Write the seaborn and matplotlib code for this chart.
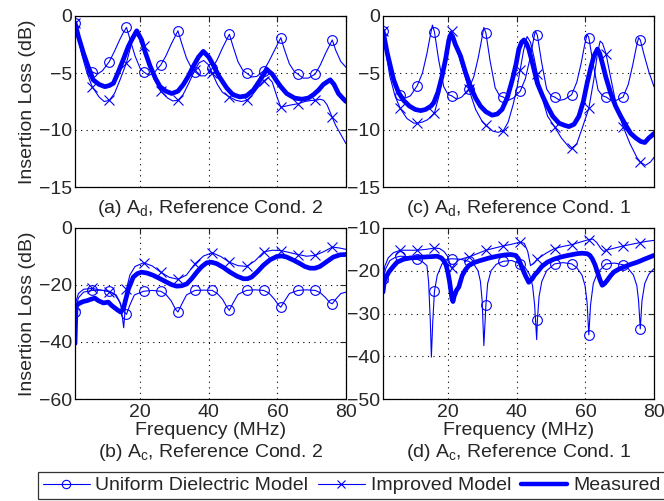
import numpy as np
import matplotlib
matplotlib.use('Agg')
import matplotlib.pyplot as plt
from matplotlib.lines import Line2D
import seaborn as sns

# marcadores cada 5 MHz
marker_freq = [1, 6, 11, 16, 21, 26, 31, 36, 41, 46, 51, 56, 61, 66, 71, 76]

# ---- (a) A_d, Reference Cond. 2 ----
a_uni_f = [1, 2, 3, 4.5, 6, 7.5, 9, 11, 12.5, 14, 15, 16, 17, 18.5, 20, 21, 22.5, 24, 26, 27.5, 29, 30, 31,
           32, 33.5, 35, 36, 37.5, 39, 41, 42.5, 44, 45, 46, 47, 48.5, 50, 51, 52.5, 54, 56, 57.5, 59, 60, 61,
           62, 63.5, 65, 66, 67.5, 69, 71, 72.5, 74, 75, 76, 77, 78.5, 80]
a_uni_db = [-0.6, -1.6, -2.6, -4.0, -4.9, -5.1, -4.8, -4.0, -3.1, -2.1, -1.5, -1.0, -2.0, -3.5, -4.6, -4.9, -5.2, -5.0, -4.3, -3.5, -2.5, -1.9, -1.3,
            -2.3, -3.7, -4.6, -4.9, -5.25, -5.25, -4.6, -3.8, -2.8, -2.2, -1.6, -2.6, -4.0, -4.8, -5.0, -5.35, -5.3, -4.8, -4.0, -3.1, -2.5, -1.9,
            -2.9, -4.2, -4.9, -5.1, -5.45, -5.45, -5.1, -4.3, -3.3, -2.7, -2.1, -3.0, -4.0, -4.5]
a_imp_f = [1, 2, 3, 4.5, 6, 8, 9.5, 11, 12.5, 14, 16, 17.5, 18.7, 20, 21, 22.5, 24, 26, 28, 29.5, 31, 32.5, 34, 36,
           37.2, 38.5, 40, 41, 42.5, 44, 46, 48, 49.5, 51, 52.5, 54, 56, 57.3, 58.5, 60, 61, 62.5, 64, 66, 68, 70,
           71, 72.5, 73.5, 74.5, 76, 77, 78.5, 80]
a_imp_db = [-0.6, -2.0, -3.4, -5.0, -6.2, -7.1, -7.5, -7.4, -6.8, -5.7, -4.1, -2.4, -1.6, -2.0, -2.6, -4.0, -5.5, -6.6, -7.2, -7.45, -7.4, -6.9, -6.0, -4.7,
            -4.1, -3.9, -4.3, -5.0, -6.0, -6.7, -7.1, -7.4, -7.5, -7.4, -7.0, -6.4, -5.7, -5.4, -5.8, -7.2, -8.0, -7.9, -7.8, -7.7, -7.5, -7.4,
            -7.4, -7.3, -7.4, -7.8, -8.9, -9.6, -10.4, -11.2]
a_meas_f = [1, 2, 3.4, 5, 6.3, 8, 9.7, 11, 12.2, 13.5, 15.1, 16.5, 17.5, 19, 20.4, 21.5, 22.9, 24.5, 25.8, 27.5, 29.2, 31,
            32.6, 34, 35.5, 37, 38.4, 40, 41.3, 43, 45.2, 47, 49.1, 51, 53, 55, 56.9, 58.5, 59.8, 61, 62.7, 65, 67.1,
            69, 70.5, 72, 73.4, 75.4, 76.5, 77.8, 79, 80]
a_meas_db = [-0.6, -1.8, -3.2, -4.6, -5.6, -6.0, -6.2, -6.1, -5.9, -5.0, -3.8, -2.7, -2.1, -1.3, -2.1, -3.2, -4.4, -5.5, -6.2, -6.6, -6.8, -6.6,
             -6.0, -5.3, -4.4, -3.6, -3.1, -3.6, -4.3, -5.3, -6.3, -6.9, -7.1, -7.0, -6.5, -5.6, -4.7, -5.1, -5.7, -6.2, -6.8, -7.2, -7.3,
             -7.2, -6.9, -6.5, -6.0, -5.6, -6.0, -6.8, -7.2, -7.5]

# ---- (c) A_d, Reference Cond. 1 ----
c_uni_f = [1, 2, 3, 4.5, 6, 7.5, 9, 11, 12.5, 13.8, 14.8, 15.4, 16, 17.2, 18.7, 20, 21, 22.5, 24, 26, 27.5, 28.8, 29.8, 30.4,
           31, 32.2, 33.7, 35, 36, 37.5, 39, 41, 42.5, 43.8, 44.8, 45.4, 46, 47.2, 48.7, 50, 51, 52.5, 54, 56, 57.5, 58.8,
           59.8, 60.5, 61, 62.2, 63.7, 65, 66, 67.5, 69, 71, 72.5, 73.8, 74.8, 75.5, 76, 77.2, 78.5, 80]
c_uni_db = [-1.3, -2.8, -4.3, -6.1, -6.9, -7.2, -7.0, -6.1, -5.0, -3.3, -1.7, -0.8, -1.4, -3.8, -6.2, -6.9, -7.0, -7.3, -7.1, -6.4, -5.3, -3.6, -2.0, -1.0,
            -1.5, -3.9, -6.3, -7.0, -7.1, -7.4, -7.2, -6.6, -5.5, -3.8, -2.2, -1.3, -1.7, -4.0, -6.4, -7.0, -7.1, -7.4, -7.3, -6.9, -5.8, -4.1,
            -2.5, -1.6, -1.9, -4.1, -6.5, -7.0, -7.1, -7.4, -7.4, -7.1, -6.0, -4.3, -2.8, -1.9, -2.1, -3.5, -4.9, -6.2]
c_imp_f = [1, 2, 3, 4.5, 6, 8, 10, 11, 12.5, 14, 16, 17.5, 18.8, 19.8, 20.5, 21, 22, 23.5, 26, 28, 30, 31, 33, 34.5, 36,
           37.5, 39, 40, 41, 42, 43, 44, 45, 46, 47.5, 49, 51, 53, 55.5, 56, 57.5, 59, 61, 62.5, 63.5, 64.3, 65, 66,
           67.5, 69, 71, 73, 75, 76, 77.5, 79, 80]
c_imp_db = [-1.3, -3.5, -5.3, -7.0, -8.1, -9.0, -9.4, -9.4, -9.3, -9.1, -8.5, -6.8, -4.5, -2.5, -1.4, -1.3, -2.3, -3.9, -6.4, -8.2, -9.3, -9.6, -10.1, -10.2, -10.1,
            -9.3, -7.7, -6.4, -4.7, -3.0, -1.8, -2.3, -3.6, -5.1, -7.3, -8.8, -9.7, -10.7, -11.6, -11.6, -11.2, -9.9, -8.1, -5.5, -3.3, -2.2, -2.4, -3.3,
            -5.6, -7.8, -9.7, -11.2, -12.4, -12.8, -13.1, -12.8, -12.4]
c_meas_f = [1, 2.2, 4.1, 5.5, 7, 8.7, 10.4, 12, 13.4, 15, 15.8, 17, 18.2, 19.3, 20.2, 20.8, 21.3, 22.1, 23.6, 25, 26.5, 28,
            29.4, 31, 32.8, 34.3, 35.7, 37.2, 38.7, 39.8, 40.6, 41.4, 42.1, 42.8, 43.5, 44.7, 46, 47.5, 48.9, 50.5, 52.3,
            54, 55.2, 56.7, 58.1, 59.4, 60.5, 61.6, 62.5, 63.5, 64.2, 64.9, 66, 67.4, 68.8, 70.3, 71.8, 73.2, 74.7, 76.1,
            77.3, 78.5, 79.3, 80]
c_meas_db = [-1.3, -3.2, -5.6, -6.7, -7.4, -7.9, -8.2, -8.3, -8.2, -7.9, -7.6, -6.7, -5.3, -3.7, -2.1, -1.6, -1.8, -2.5, -3.5, -4.9, -6.2, -7.2,
             -7.9, -8.4, -8.7, -8.6, -8.2, -7.2, -5.6, -4.2, -2.9, -2.3, -2.1, -2.4, -2.9, -4.3, -5.9, -7.0, -7.9, -8.8, -9.4,
             -9.6, -9.7, -9.5, -8.8, -7.5, -5.9, -4.5, -3.5, -2.9, -3.3, -4.1, -5.4, -6.8, -7.9, -8.8, -9.6, -10.3, -10.7, -11.0,
             -11.1, -10.7, -10.5, -10.3]

# ---- (b) A_c, Reference Cond. 2 ----
b_uni_f = [1, 2, 3.5, 6, 8.5, 11, 12.5, 13.8, 15, 16, 17, 18.3, 21, 23.5, 26, 27.5, 29, 30.3, 31, 32, 33.5, 36, 38.5,
           41, 42.5, 44, 45.3, 46, 47, 48.5, 51, 53.5, 56, 57.5, 59, 60.3, 61, 62, 63.5, 66, 68.5, 71, 72.5, 74, 75.3,
           76, 77, 78.5, 80]
b_uni_db = [-29.5, -24.5, -22.5, -21.9, -21.8, -22.2, -23.2, -25.5, -29, -30.3, -27, -23.5, -22.2, -21.9, -22.2, -23.3, -25.5, -28.5, -29.5, -27, -23.5, -21.9, -21.8,
            -21.9, -23.0, -25.0, -27.8, -28.9, -26.5, -23.3, -21.9, -21.7, -21.9, -22.8, -24.8, -27.0, -27.8, -25.8, -23.0, -21.9, -21.7, -21.9, -22.7, -24.4, -26.2,
            -26.6, -25.0, -23.0, -22.5]
b_imp_f = [1, 2, 3.5, 6, 8.5, 11, 13, 14.3, 15.2, 15.7, 16, 17, 18.5, 21, 23.5, 26, 28.5, 31, 33.5, 36, 38.5, 41, 43.5,
           46, 48.5, 51, 53.5, 56, 58.5, 61, 63.5, 66, 68.5, 71, 73.5, 76, 78, 80]
b_imp_db = [-27, -23, -21.5, -21.2, -21.8, -22.3, -23.5, -26.5, -35, -27, -21.4, -16.5, -13.5, -12.2, -13.3, -15.5, -17.3, -18.0, -16.5, -12.5, -9.8, -8.7, -10.0,
            -12.0, -13.2, -13.5, -11.5, -8.4, -7.8, -7.9, -8.6, -9.3, -9.9, -9.6, -8.3, -6.7, -7.0, -7.5]
b_meas_f = [1, 1.3, 2, 3.4, 4.5, 5.4, 6.8, 7.8, 9.3, 10.7, 11.7, 13.2, 14.3, 15.1, 15.8, 16.6, 18, 19.2, 20.4, 22, 23.8,
            25.8, 27.7, 29.2, 30.6, 32, 33.6, 35, 36.5, 38, 39.4, 40.8, 42.3, 44.2, 46.2, 48.2, 50.1, 51.3, 52.5, 54.2,
            55.9, 57.8, 59.8, 61.2, 62.7, 64.7, 66.6, 68, 69.5, 71, 72.4, 74.4, 76.3, 78.3, 80]
b_meas_db = [-40.5, -27.5, -26.6, -25.8, -25.5, -25.1, -24.6, -25.5, -26.3, -26.0, -27.2, -28.6, -29.5, -28.4, -25.0, -21.3, -17.2, -16.0, -15.5, -15.8, -16.6,
             -17.8, -19.0, -19.9, -20.4, -20.3, -19.6, -17.8, -15.5, -13.5, -12.2, -12.0, -12.5, -13.8, -15.5, -16.9, -17.8, -17.8, -17.2, -15.3,
             -13.1, -11.2, -10.0, -9.8, -10.2, -11.3, -12.5, -13.5, -14.1, -14.1, -13.5, -11.8, -10.2, -9.4, -9.3]

# ---- (d) A_c, Reference Cond. 1 ----
d_uni_f = [1, 1.8, 3, 4.5, 6, 8.5, 11, 12.5, 13.8, 14.3, 14.8, 15.1, 15.5, 16, 16.8, 18.2, 19.7, 21, 23.5, 26, 27.5, 28.7,
           29.4, 29.9, 30.4, 31, 31.5, 32.5, 34, 36, 38.5, 41, 42.5, 43.8, 44.6, 45.2, 45.8, 46, 46.5, 47.3, 48.7, 51,
           53.5, 56, 57.5, 59, 59.9, 60.5, 61, 61.5, 62.3, 63.5, 66, 68.5, 71, 72.5, 74, 75, 75.5, 76, 76.5, 77.3, 78.5, 80]
d_uni_db = [-22, -19.5, -17.6, -16.9, -16.6, -16.7, -17.3, -17.9, -18.8, -22.7, -32, -40.2, -32, -24.8, -21.1, -18.4, -17.3, -17.2, -17.3, -17.8, -18.5, -20,
            -22.5, -27, -37.5, -28, -23, -20, -18.5, -17.8, -17.6, -18.4, -19.3, -21, -23.5, -28, -36.1, -31.6, -26, -22.5, -20.0, -18.4,
            -18.1, -18.4, -19.3, -21.0, -23.5, -27.5, -35.0, -28, -23, -20.5, -18.4, -18.2, -18.6, -19.5, -21, -23.5, -27, -33.6, -27, -23, -20.8, -19.5]
d_imp_f = [1, 1.5, 2.5, 4, 6, 8.5, 11, 13.5, 16, 17.5, 18.8, 19.8, 20.5, 21, 21.8, 23, 24.5, 26, 28.5, 31, 33.5, 36, 38.5,
           41, 42.2, 43.2, 44, 45, 46, 48.5, 51, 53.5, 56, 58.5, 61, 62.2, 63.3, 64.5, 65.4, 66, 68.5, 71, 73.5, 76, 78, 80]
d_imp_db = [-21.5, -19, -17, -15.8, -15.2, -15.2, -15.2, -15.0, -14.7, -14.8, -15.5, -16.6, -18.3, -19.4, -18.6, -17.5, -17.1, -16.8, -16.0, -15.2, -14.7, -14.2, -13.8,
            -13.3, -13.6, -15.5, -18.8, -18.2, -17.3, -15.9, -14.8, -14.3, -13.9, -13.3, -12.7, -12.6, -13.4, -14.8, -15.5, -15.2, -14.7, -14.2, -13.8, -13.4, -13.1, -12.9]
d_meas_f = [1, 1.4, 2.7, 4, 5.1, 7, 9, 11, 12.9, 15, 16.8, 18, 18.7, 19.4, 19.9, 20.4, 20.7, 21.1, 21.4, 21.8, 22.1, 22.4,
            23.1, 24.1, 25, 26, 27.5, 29.4, 32, 34.3, 36.5, 38.2, 39.6, 40.4, 41.1, 41.8, 42.5, 43.5, 44.5, 45.2, 46, 47.3,
            48.9, 50.8, 52.8, 55, 57.6, 59, 60.5, 61.3, 62, 62.8, 63.5, 64.2, 64.9, 65.6, 66.4, 67.3, 68.3, 69.8, 71.3,
            73.2, 75.1, 77.5, 80]
d_meas_db = [-25, -22.3, -20.3, -19.0, -18.0, -17.3, -17.0, -16.9, -16.8, -16.7, -16.6, -17.0, -17.6, -18.7, -20.3, -22.5, -24.2, -26.5, -27.2, -25.8, -25.3, -24.6,
             -23.8, -21.1, -19.8, -18.8, -18.1, -17.6, -17.0, -16.6, -16.3, -16.2, -16.4, -17.1, -18.4, -19.8, -21.1, -22.7, -21.9, -21.0, -20.3, -19.0,
             -18.0, -17.3, -16.8, -16.4, -16.0, -15.9, -16.0, -16.4, -17.2, -18.6, -20.3, -22.0, -23.4, -23.0, -22.2, -21.2, -20.3, -19.6, -19.1,
             -18.5, -18.0, -17.2, -16.4]

sns.set_style('white')
plt.rcParams['font.family'] = ['Liberation Sans', 'DejaVu Sans']
plt.rcParams['font.size'] = 14
plt.rcParams['axes.unicode_minus'] = True

BLUE = (0, 0, 1)


def panel(ax, uni, imp, meas, ylim, yticks, subtitle, bottom):
    uf, ud = uni
    sns.lineplot(x=uf, y=ud, ax=ax, color=BLUE, lw=0.8, marker='o', ms=7, mfc='none', mec=BLUE, mew=0.8,
                 markevery=list(np.isin(uf, marker_freq)), estimator=None, sort=False)
    imf, imd = imp
    sns.lineplot(x=imf, y=imd, ax=ax, color=BLUE, lw=0.8, marker='x', ms=7, mec=BLUE, mew=0.8,
                 markevery=list(np.isin(imf, marker_freq)), estimator=None, sort=False)
    mf, md = meas
    sns.lineplot(x=mf, y=md, ax=ax, color=BLUE, lw=3.4, estimator=None, sort=False)

    ax.set_xlim(1, 80)
    ax.set_ylim(*ylim)
    ax.set_xticks([20, 40, 60, 80])
    ax.set_yticks(yticks)
    ax.grid(True, ls=(0, (1, 4)), color='k', lw=0.8)
    ax.tick_params(direction='in', top=True, right=True, length=4, labelsize=14)
    ax.tick_params(axis='y', pad=2)
    for s in ax.spines.values():
        s.set_color('k')
        s.set_linewidth(0.9)
    if bottom:
        ax.set_xlabel('Frequency (MHz)', fontsize=14, labelpad=1)
        ax.text(0.5, -0.315, subtitle, transform=ax.transAxes, ha='center', va='center', fontsize=14)
    else:
        ax.set_xticklabels([])
        ax.set_xlabel('')
        ax.text(0.5, -0.125, subtitle, transform=ax.transAxes, ha='center', va='center', fontsize=14)
    ax.set_ylabel('')


fig = plt.figure(figsize=(6.64, 5.01), dpi=100)
W, H = 664, 501
ax_a = fig.add_axes([75 / W, 1 - 187 / H, 271 / W, 171 / H])
ax_c = fig.add_axes([383 / W, 1 - 187 / H, 271 / W, 171 / H])
ax_b = fig.add_axes([75 / W, 1 - 399 / H, 271 / W, 171 / H])
ax_d = fig.add_axes([383 / W, 1 - 399 / H, 271 / W, 171 / H])

panel(ax_a, (a_uni_f, a_uni_db), (a_imp_f, a_imp_db), (a_meas_f, a_meas_db),
      (-15, 0), [-15, -10, -5, 0], r'(a) A$_\mathregular{d}$, Reference Cond. 2', False)
panel(ax_c, (c_uni_f, c_uni_db), (c_imp_f, c_imp_db), (c_meas_f, c_meas_db),
      (-15, 0), [-15, -10, -5, 0], r'(c) A$_\mathregular{d}$, Reference Cond. 1', False)
panel(ax_b, (b_uni_f, b_uni_db), (b_imp_f, b_imp_db), (b_meas_f, b_meas_db),
      (-60, 0), [-60, -40, -20, 0], r'(b) A$_\mathregular{c}$, Reference Cond. 2', True)
panel(ax_d, (d_uni_f, d_uni_db), (d_imp_f, d_imp_db), (d_meas_f, d_meas_db),
      (-50, -10), [-50, -40, -30, -20, -10], r'(d) A$_\mathregular{c}$, Reference Cond. 1', True)

ax_a.set_ylabel('Insertion Loss (dB)', fontsize=14, labelpad=2)
ax_b.set_ylabel('Insertion Loss (dB)', fontsize=14, labelpad=2)

handles = [
    Line2D([], [], color=BLUE, lw=0.8, marker='o', ms=6, mfc='none', mec=BLUE, mew=0.8),
    Line2D([], [], color=BLUE, lw=0.8, marker='x', ms=6, mec=BLUE, mew=0.8),
    Line2D([], [], color=BLUE, lw=3.2),
]
labels = ['Uniform Dielectric Model', 'Improved Model', 'Measured']
leg = fig.legend(handles, labels, loc='upper left', bbox_to_anchor=(38 / W, 1 - 472 / H), ncol=3,
                 frameon=True, fancybox=False, edgecolor='k', fontsize=14, handlelength=2.4,
                 handletextpad=0.3, columnspacing=0.5, borderpad=0.25, borderaxespad=0)
leg.get_frame().set_linewidth(0.9)

fig.savefig('out.png', dpi=100)
